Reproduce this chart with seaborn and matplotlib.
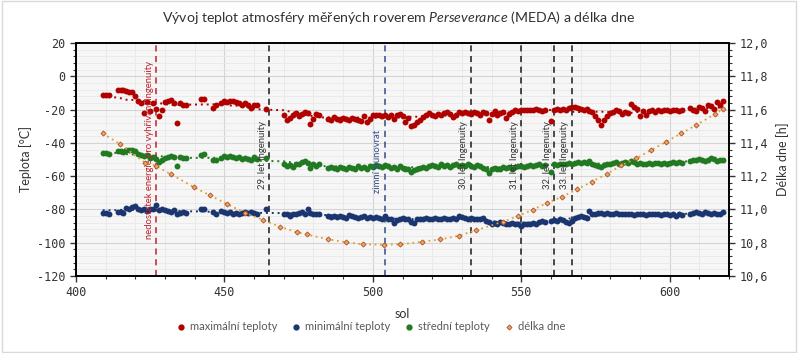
import numpy as np
import pandas as pd
import matplotlib
matplotlib.use("Agg")
import matplotlib.pyplot as plt
import seaborn as sns
from matplotlib.ticker import MultipleLocator, FuncFormatter
from matplotlib.lines import Line2D
from matplotlib.patches import Rectangle

# sols with MEDA measurements (gaps where no data)
sols = ([409, 410, 411] + list(range(414, 417)) + list(range(417, 438)) + [442, 443] + [446, 447]
        + list(range(449, 462)) + [464] + list(range(470, 483)) + list(range(485, 559))
        + list(range(560, 605)) + list(range(607, 619)))

t_max = [-11, -11, -11.5,
         -8.5, -8, -8.5,
         -9, -9.5, -9.5, -12, -15, -16, -22, -15.5, -21, -16, -19.5, -24, -20, -15.5, -15, -14.5, -16, -28, -16, -17, -17,
         -13.5, -13.5,
         -19, -17,
         -16, -15, -15.5, -15, -15, -15.5, -16, -17, -16, -17.5, -19, -17, -17,
         -19.5,
         -23.5, -26.5, -25, -23, -22, -24, -22.5, -21.5, -22, -28.5, -25.5, -22.5, -23.5,
         -25.5, -26, -24.5, -25.5, -26, -25, -25.5, -26, -25, -25.5, -26.5, -27, -24, -27.5, -25.5, -23, -23.5, -23, -24, -23,
         -24.5, -23, -25.5, -23.5, -22.5, -24, -27.5, -25, -30, -29, -27.5, -26, -24.5, -23, -22, -23.5, -24, -22.5, -23, -22,
         -21.5, -22.5, -24.5, -23, -21.5, -22, -21.5, -22, -22.5, -21.5, -22, -23, -21.5, -22, -26, -22.5, -21, -23.5, -22, -21.5,
         -25, -22.5, -21.5, -20.5, -21, -20.5, -20, -20, -20.5, -20, -19.5, -20, -21, -20.5,
         -27, -20, -19.5, -20, -19.5, -20, -19, -18.5, -18.5, -19, -19.5, -20, -19.5, -21, -21.5, -24, -26.5, -29, -26, -24,
         -22, -21.5, -20, -21, -22.5, -21.5, -22, -16.5, -18.5, -19.5, -24, -21, -23.5, -21, -20.5, -21.5, -20.5, -21, -20.5, -20.5,
         -21, -20.5, -20, -21, -20.5,
         -19, -20, -21, -18.5, -19, -21, -17, -18, -19.5, -15.5, -17.5, -15]

t_min = [-82, -82, -82.5,
         -81.5, -81.5, -82,
         -79, -79.5, -78.5, -78, -79.5, -80.5, -80, -81, -80, -79.5, -77.5, -80.5, -80, -80.5, -81, -81.5, -80.5, -82.5, -82, -81.5, -82,
         -80, -79.5,
         -81.5, -83,
         -81, -81.5, -82, -81.5, -82.5, -82, -83, -82, -81.5, -82, -81.5, -82, -82.5,
         -80,
         -83, -82.5, -84, -83, -82.5, -82, -81.5, -82.5, -80, -82, -83, -82.5, -83,
         -84, -84.5, -84, -84.5, -84, -84.5, -85, -83.5, -84, -84.5, -85, -84.5, -84, -85, -84.5, -85, -84.5, -85, -86, -84,
         -85.5, -86, -88, -86.5, -85.5, -85, -86, -85.5, -87.5, -88, -86, -85.5, -86, -85, -85.5, -86, -85, -85.5, -86, -85,
         -85.5, -86, -85, -85.5, -84, -84.5, -85, -85.5, -85, -86, -85.5, -86, -85, -87, -87.5, -88.5, -88, -88.5, -87.5, -88,
         -88.5, -89, -88, -88.5, -89, -90, -89, -88.5, -89, -88, -88.5, -87.5, -87, -87.5,
         -87, -86.5, -87, -86, -86.5, -87.5, -88, -87, -85, -84.5, -84, -84.5, -85, -81, -83, -82.5, -82, -82, -82.5, -82,
         -82.5, -83, -82, -82.5, -83, -82.5, -83, -82.5, -83.5, -83, -82.5, -83, -83.5, -82.5, -83, -82.5, -83, -83.5, -82.5, -83,
         -83.5, -82.5, -84, -83, -83.5,
         -82.5, -82, -81.5, -82, -82.5, -81.5, -82, -82.5, -82, -83, -82.5, -81.5]

t_mean = [-46, -46, -46.5,
          -45, -45, -45.5,
          -44, -44, -44.5, -45, -46.5, -47.5, -48, -47, -49, -48.5, -49.5, -51.5, -50, -49, -48.5, -48, -48.5, -54, -48.5, -49, -49,
          -47, -46.5,
          -50, -50.5,
          -49, -48, -48.5, -48, -48.5, -49, -48.5, -49.5, -49, -49.5, -50, -48.5, -49.5,
          -49,
          -53, -54, -53.5, -54.5, -53, -52.5, -51.5, -51, -52, -55, -52.5, -54, -53,
          -55, -54.5, -55, -55.5, -54.5, -55, -55.5, -54.5, -55, -55.5, -54, -55, -54.5, -55.5, -54, -54.5, -53.5, -54, -54.5, -53.5,
          -54, -55, -54.5, -55.5, -54, -55, -56, -55.5, -57.5, -56.5, -56, -55, -54.5, -55, -54, -53.5, -54, -54.5, -53, -54,
          -53.5, -54.5, -53.5, -53, -54, -53.5, -54, -53, -54, -54.5, -53.5, -54, -55, -55.5, -58, -55.5, -55, -56, -55.5, -54.5,
          -55, -54.5, -55.5, -54.5, -54, -54, -54.5, -54, -53.5, -54, -53.5, -53, -54, -53.5,
          -57.5, -53, -53.5, -52.5, -53, -52.5, -52, -52.5, -52, -51.5, -52, -51.5, -52, -51, -53, -53.5, -54, -54.5, -53.5, -53,
          -52.5, -52, -51.5, -53, -52, -51.5, -52, -51, -51.5, -52.5, -52, -53, -52.5, -52, -52.5, -52, -52, -52.5, -52, -52.5,
          -52, -51.5, -52, -51.5, -52,
          -51, -50.5, -50, -49.5, -50, -51, -50.5, -49, -49.5, -51, -50, -50.5]

# day length [h]
day_sols = [409.0, 414.8, 423.2, 426.8, 432.0, 439.8, 445.1, 450.8, 456.9, 463.1, 468.7, 474.6, 477.7,
            484.9, 490.8, 496.7, 503.8, 509.1, 516.7, 522.8, 528.9, 534.9, 543.7, 548.9, 553.8, 558.8,
            563.7, 568.9, 573.8, 578.9, 583.7, 588.8, 593.8, 598.9, 603.9, 609.0, 615.2, 617.9]
day_len = [11.457, 11.393, 11.281, 11.263, 11.211, 11.133, 11.085, 11.033, 10.980, 10.936, 10.896, 10.862, 10.850,
           10.820, 10.804, 10.790, 10.788, 10.790, 10.806, 10.820, 10.842, 10.875, 10.926, 10.960, 10.998, 11.039,
           11.076, 11.121, 11.167, 11.213, 11.265, 11.307, 11.357, 11.407, 11.457, 11.507, 11.572, 11.603]

events = [427, 465, 504, 533, 550, 561, 567]
event_labels = ["nedostatek energie pro vyhřívání Ingenuity", "29. let Ingenuity", "zimní slunovrat",
                "30. let Ingenuity", "31. let Ingenuity", "32. let Ingenuity", "33. let Ingenuity"]

c_max, c_min, c_mean = "#B00000", "#1A3570", "#217A21"
c_day_line, c_day_face, c_day_edge = "#E0A030", "#F2A35E", "#A8502A"
event_colors = ["#C0202A", "k", "#2F4C8A", "k", "k", "k", "k"]
event_text_colors = ["#C0202A", "#333333", "#2F4C8A", "#333333", "#333333", "#333333", "#333333"]
event_label_bottom = [-98, -68, -70, -68, -68, -68, -68]

df = pd.DataFrame({"sol": sols, "max": t_max, "min": t_min, "mean": t_mean})
day = pd.DataFrame({"sol": day_sols, "len": day_len})

sns.set_theme(style="white")
plt.rcParams["font.family"] = ["Lato", "DejaVu Sans"]
plt.rcParams["mathtext.fontset"] = "custom"
plt.rcParams["mathtext.rm"] = "Lato"
plt.rcParams["mathtext.it"] = "Lato:italic"
plt.rcParams["axes.unicode_minus"] = False

fig = plt.figure(figsize=(7.98, 3.53), dpi=100)
ax = fig.add_axes([76 / 798, 1 - 276 / 353, (729 - 76) / 798, (276 - 43) / 353])
ax.set_facecolor("#F6F6F6")
ax2 = ax.twinx()

for col, color, lab in [("max", c_max, "maximální teploty"), ("min", c_min, "minimální teploty"),
                        ("mean", c_mean, "střední teploty")]:
    sns.scatterplot(data=df, x="sol", y=col, color=color, s=18, linewidth=0, ax=ax, zorder=3, label=lab)
    trend = df[col].rolling(25, center=True, min_periods=1).mean()
    ax.plot(df["sol"], trend, ls=(0, (1, 2)), lw=1.4, color=color, zorder=2)

for x, lab, col, tcol, yb in zip(events, event_labels, event_colors, event_text_colors, event_label_bottom):
    ax.axvline(x, color=col, ls=(0, (4, 3)), lw=1.1, zorder=2.5)
    ax.text(x - 0.8, yb, lab, rotation=90, ha="right", va="bottom", fontsize=6.8, color=tcol, zorder=4)

sns.lineplot(data=day, x="sol", y="len", ax=ax2, color=c_day_line, lw=1.3, ls=(0, (1, 2)),
             marker="D", markersize=2.6, markerfacecolor=c_day_face, markeredgecolor=c_day_edge,
             markeredgewidth=0.6, zorder=3, label="délka dne")

ax.set_xlim(400, 620)
ax.set_ylim(-120, 20)
ax2.set_ylim(10.6, 12.0)
ax.xaxis.set_major_locator(MultipleLocator(50))
ax.xaxis.set_minor_locator(MultipleLocator(10))
ax.yaxis.set_major_locator(MultipleLocator(20))
ax.yaxis.set_minor_locator(MultipleLocator(4))
ax2.yaxis.set_major_locator(MultipleLocator(0.2))
ax2.yaxis.set_minor_locator(MultipleLocator(0.04))
ax2.yaxis.set_major_formatter(FuncFormatter(lambda v, p: f"{v:.1f}".replace(".", ",")))

ax.grid(which="major", color="#D4D4D4", lw=0.8)
ax.grid(which="minor", color="#E8E8E8", lw=0.6)
ax.set_axisbelow(True)

for a in (ax, ax2):
    for s in a.spines.values():
        s.set_color("black")
        s.set_linewidth(1.2)
ax.tick_params(which="major", direction="out", length=4, width=1, colors="#333333", labelsize=8.5,
               left=True, bottom=True)
ax.tick_params(which="minor", direction="out", length=2.5, width=0.8, colors="#333333", left=True, bottom=True)
ax2.tick_params(which="major", direction="out", length=4, width=1, colors="#333333", labelsize=8.5, right=True)
ax2.tick_params(which="minor", direction="out", length=2.5, width=0.8, colors="#333333", right=True)
for lab in ax.get_xticklabels() + ax.get_yticklabels() + ax2.get_yticklabels():
    lab.set_fontfamily("DejaVu Sans Mono")

ax.set_xlabel("sol", fontsize=9, color="#333333", labelpad=6)
ax.set_ylabel("Teplota [°C]", fontsize=9, color="#333333", labelpad=4)
ax2.set_ylabel("Délka dne [h]", fontsize=9, color="#333333", labelpad=6)

ax.get_legend().remove()
ax2.get_legend().remove()
handles = [Line2D([], [], ls="", marker="o", color=c_max, markersize=3.5),
           Line2D([], [], ls="", marker="o", color=c_min, markersize=3.5),
           Line2D([], [], ls="", marker="o", color=c_mean, markersize=3.5),
           Line2D([], [], ls="", marker="D", markerfacecolor=c_day_face, markeredgecolor=c_day_edge,
                  markersize=2.6, markeredgewidth=0.6)]
fig.legend(handles, ["maximální teploty", "minimální teploty", "střední teploty", "délka dne"],
           loc="center", bbox_to_anchor=(371 / 798, 1 - 327 / 353), ncol=4, frameon=False,
           fontsize=8, labelcolor="#595959", handlelength=0.8, handletextpad=0.4, columnspacing=1.3)

fig.text(0.5, 1 - 18 / 353, "Vývoj teplot atmosféry měřených roverem $\\mathit{Perseverance}$ (MEDA) a délka dne",
         ha="center", va="center", fontsize=10.2, color="#333333")
fig.patches.append(Rectangle((0.002, 0.003), 0.996, 0.994, transform=fig.transFigure, fill=False,
                             edgecolor="#D9D9D9", lw=1))

fig.savefig("out.png", dpi=100)
